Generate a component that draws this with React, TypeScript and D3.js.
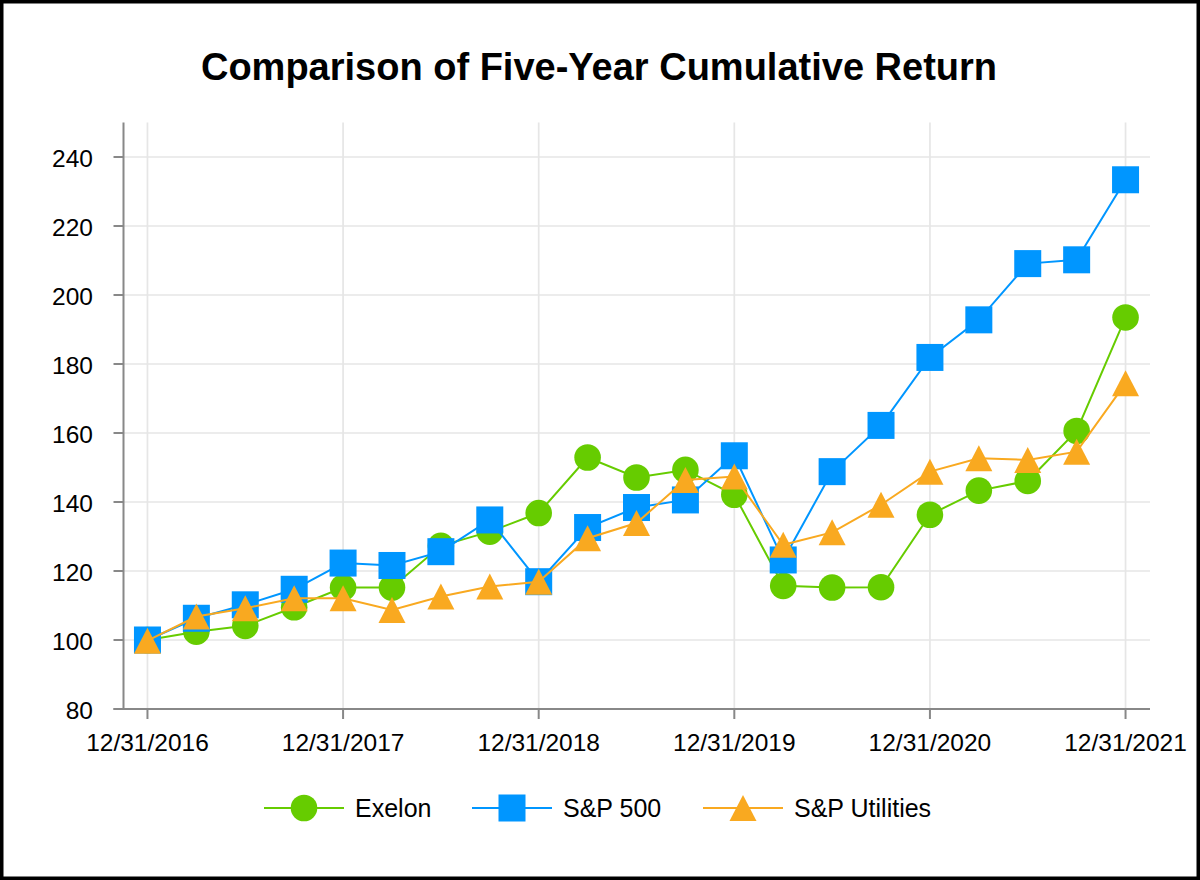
import React from 'react';
import * as d3 from 'd3';

const quarters = d3.range(0, 21);
const yearTicks = [0, 4, 8, 12, 16, 20];
const yearLabels = ['12/31/2016', '12/31/2017', '12/31/2018', '12/31/2019', '12/31/2020', '12/31/2021'];
const yTicks = [80, 100, 120, 140, 160, 180, 200, 220, 240];

const exelon = [100, 102.4, 104.1, 109.5, 115.2, 115.2, 127.3, 131.4, 136.8, 152.9, 147.1, 149.3, 142.1, 115.7, 115.2, 115.3, 136.3, 143.3, 146.1, 160.6, 193.5];
const sp500 = [100, 106.3, 110.2, 114.7, 122.3, 121.6, 125.6, 134.8, 116.9, 132.6, 138.4, 140.6, 153.4, 123.2, 148.8, 162.2, 181.9, 192.8, 209.1, 210.2, 233.4];
const utilities = [99.8, 106.8, 109.2, 112.1, 112.1, 108.7, 112.6, 115.5, 116.9, 129.5, 133.9, 146.4, 147.4, 127.6, 131.2, 139.2, 148.8, 152.7, 152.2, 154.6, 174.4];

const seriesNames = ['Exelon', 'S&P 500', 'S&P Utilities'];
const seriesColors = ['#66CC00', '#0096FF', '#F9A920'];
const seriesShapes = ['circle', 'square', 'triangle'];

const FONT = 'Liberation Sans, Arial, sans-serif';

const Marker: React.FC<{ shape: string; x: number; y: number; color: string }> = ({ shape, x, y, color }) => {
  if (shape === 'circle') return <circle cx={x} cy={y} r={13.3} fill={color} />;
  if (shape === 'square') return <rect x={x - 13.5} y={y - 13.5} width={27} height={27} fill={color} />;
  return <path d={`M${x},${y - 13} L${x + 13.5},${y + 13} L${x - 13.5},${y + 13} Z`} fill={color} />;
};

const App: React.FC = () => {
  const width = 1200;
  const height = 880;
  const left = 123.5;
  const right = 1150;
  const top = 122.5;
  const bottom = 709;

  const x = d3.scaleLinear().domain([-0.49, 20.5]).range([left, right]);
  const y = d3.scaleLinear().domain([80, 250]).range([bottom, top]);

  const data = [exelon, sp500, utilities];
  const line = d3.line<number>().x((_, i) => x(quarters[i])).y(d => y(d));

  // legend item starts (line start x)
  const legendX = [264, 472, 703];

  return (
    <svg width={width} height={height} style={{ position: 'absolute', left: 0, top: 0 }} fontFamily={FONT}>
      <rect x={0} y={0} width={width} height={height} fill="#fff" />
      <rect x={1.75} y={1.75} width={width - 3.5} height={height - 3.5} fill="none" stroke="#000" strokeWidth={3.5} />

      <text x={599} y={80} textAnchor="middle" fontSize={38} fontWeight="bold" fill="#000">
        Comparison of Five-Year Cumulative Return
      </text>

      {/* grid */}
      {yTicks.filter(t => t > 80).map(t => (
        <line key={'gy' + t} x1={left} x2={right} y1={y(t)} y2={y(t)} stroke="#e6e6e6" strokeWidth={1.7} />
      ))}
      {yearTicks.map(t => (
        <line key={'gx' + t} x1={x(t)} x2={x(t)} y1={top} y2={bottom} stroke="#e6e6e6" strokeWidth={1.7} />
      ))}

      {/* axes */}
      <line x1={left} x2={left} y1={top} y2={bottom} stroke="#888" strokeWidth={2} />
      <line x1={left - 10} x2={right} y1={bottom} y2={bottom} stroke="#888" strokeWidth={2} />
      {yTicks.map(t => (
        <g key={'yt' + t}>
          <line x1={left - 10} x2={left} y1={y(t)} y2={y(t)} stroke="#888" strokeWidth={2} />
          <text x={93} y={y(t) + 10} textAnchor="end" fontSize={24.5} fill="#000">{t}</text>
        </g>
      ))}
      {yearTicks.map((t, i) => (
        <g key={'xt' + t}>
          <line x1={x(t)} x2={x(t)} y1={bottom} y2={bottom + 10} stroke="#888" strokeWidth={2} />
          <text x={x(t)} y={750.5} textAnchor="middle" fontSize={24.5} fill="#000">{yearLabels[i]}</text>
        </g>
      ))}

      {/* series */}
      {data.map((vals, s) => (
        <g key={seriesNames[s]}>
          <path d={line(vals) || ''} fill="none" stroke={seriesColors[s]} strokeWidth={2} />
          {vals.map((v, i) => (
            <Marker key={i} shape={seriesShapes[s]} x={x(quarters[i])} y={y(v)} color={seriesColors[s]} />
          ))}
        </g>
      ))}

      {/* legend */}
      {seriesNames.map((name, s) => {
        const lx = legendX[s];
        const ly = 808;
        return (
          <g key={'lg' + name}>
            <line x1={lx} x2={lx + 80} y1={ly} y2={ly} stroke={seriesColors[s]} strokeWidth={2} />
            <Marker shape={seriesShapes[s]} x={lx + 40} y={ly} color={seriesColors[s]} />
            <text x={lx + 91} y={ly + 9} fontSize={25} fill="#000">{name}</text>
          </g>
        );
      })}
    </svg>
  );
};

export default App;
